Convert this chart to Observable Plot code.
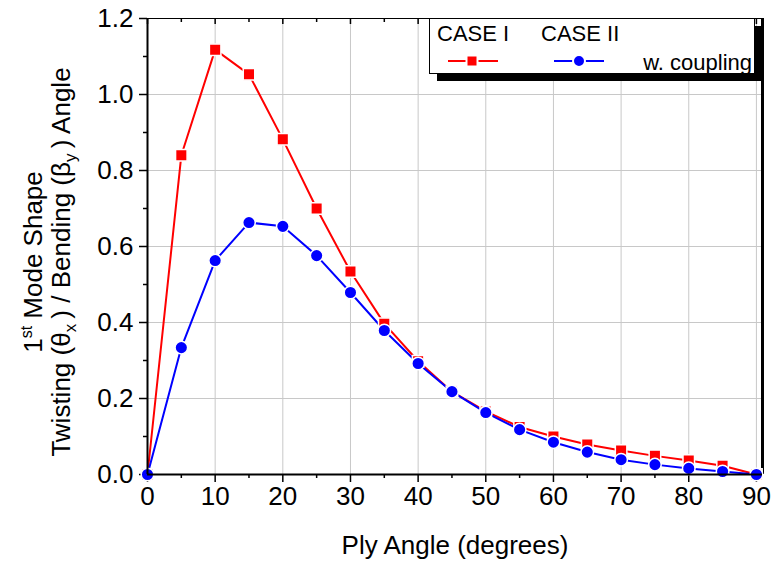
<!DOCTYPE html>
<html><head><meta charset="utf-8">
<script src="https://cdn.jsdelivr.net/npm/d3@7"></script>
<script src="https://cdn.jsdelivr.net/npm/@observablehq/plot@0.6"></script>
<style>
body{margin:0;background:#fff}
svg{font-family:Arial,"Liberation Sans",sans-serif}
</style>
</head><body><div id="chart"></div>
<script>
const plyAngle = [0,5,10,15,20,25,30,35,40,45,50,55,60,65,70,75,80,85,90];
const caseI  = [0,0.840,1.118,1.053,0.882,0.700,0.534,0.397,0.298,0.218,0.166,0.125,0.100,0.079,0.063,0.049,0.037,0.023,0.0];
const caseII = [0,0.334,0.563,0.663,0.653,0.576,0.479,0.379,0.292,0.218,0.163,0.118,0.085,0.059,0.039,0.026,0.016,0.008,0.0];
const xTicks = [0,10,20,30,40,50,60,70,80,90];
const xMinor = [5,15,25,35,45,55,65,75,85];
const yTicks = [0,0.2,0.4,0.6,0.8,1.0,1.2];
const yMinor = [0.1,0.3,0.5,0.7,0.9,1.1];
const xDomain = [0, 90.9];
const yDomain = [0, 1.2];
const seriesNames = ["CASE I", "CASE II"];
const legendNote = "w. coupling";
const xTitle = "Ply Angle (degrees)";

const dI = plyAngle.map((x,i)=>({x, y: caseI[i]}));
const dII = plyAngle.map((x,i)=>({x, y: caseII[i]}));

const W = 772, H = 563, mL = 147, mR = 10, mT = 18, mB = 89;
const plotH = H - mT - mB;

const chart = Plot.plot({
  width: W, height: H,
  marginLeft: mL, marginRight: mR, marginTop: mT, marginBottom: mB,
  style: {background: "#fff", color: "#000", fontFamily: "Arial, 'Liberation Sans', sans-serif"},
  x: {domain: xDomain, axis: null},
  y: {domain: yDomain, axis: null},
  marks: [
    Plot.gridX(xTicks, {stroke: "#c8c8c8", strokeOpacity: 1, strokeWidth: 1}),
    Plot.gridY(yTicks, {stroke: "#c8c8c8", strokeOpacity: 1, strokeWidth: 1}),
    Plot.ruleY([yDomain[1]], {stroke: "#000", strokeWidth: 1}),
    Plot.ruleX(xTicks, {stroke: "#000", strokeWidth: 1.5, insetBottom: plotH - 6}),
    Plot.ruleX(xMinor, {stroke: "#000", strokeWidth: 1.5, insetBottom: plotH - 4}),
    Plot.axisX(xTicks, {tickSize: 8, tickPadding: 4, fontSize: 26, strokeWidth: 1.5, label: null}),
    Plot.axisX(xMinor, {tickSize: 4, strokeWidth: 1.5, tickFormat: () => "", label: null}),
    Plot.axisY(yTicks, {tickSize: 8, tickPadding: 6, fontSize: 26, strokeWidth: 1.5, tickFormat: d3.format(".1f"), label: null}),
    Plot.axisY(yMinor, {tickSize: 4, strokeWidth: 1.5, tickFormat: () => "", label: null}),
    Plot.ruleX([xDomain[1]], {stroke: "#000", strokeWidth: 3}),
    Plot.line(dI, {x: "x", y: "y", stroke: "#ff0000", strokeWidth: 2}),
    Plot.line(dII, {x: "x", y: "y", stroke: "#0000ff", strokeWidth: 2}),
    Plot.dot(dI, {x: "x", y: "y", symbol: "square", r: 6.5, fill: "#ff0000", stroke: "#fff", strokeWidth: 1.5}),
    Plot.dot(dII, {x: "x", y: "y", symbol: "circle", r: 6.3, fill: "#0000ff", stroke: "#fff", strokeWidth: 1.5}),
    Plot.ruleX([0], {stroke: "#000", strokeWidth: 2}),
    Plot.ruleY([0], {stroke: "#000", strokeWidth: 2})
  ]
});
document.getElementById("chart").appendChild(chart);

const svg = d3.select(chart);
// X title
svg.append("text").attr("x", 455).attr("y", 554).attr("text-anchor", "middle")
  .attr("font-size", 26).attr("fill", "#000").text(xTitle);

// Y title (two lines, rotated)
const yl = svg.append("g").attr("transform", "translate(0,262) rotate(-90)");
const t1 = yl.append("text").attr("x", 0).attr("y", 42).attr("text-anchor", "middle").attr("font-size", 26).attr("fill", "#000");
t1.append("tspan").text("1");
t1.append("tspan").attr("font-size", 16).attr("dy", -10).text("st");
t1.append("tspan").attr("dy", 10).text(" Mode Shape");
const t2 = yl.append("text").attr("x", 0).attr("y", 70).attr("text-anchor", "middle").attr("font-size", 26).attr("fill", "#000");
t2.append("tspan").text("Twisting (\u03B8");
t2.append("tspan").attr("font-size", 17).attr("dy", 6).text("x");
t2.append("tspan").attr("dy", -6).text("\u2009) / Bending (\u03B2");
t2.append("tspan").attr("font-size", 17).attr("dy", 6).text("y");
t2.append("tspan").attr("dy", -6).text("\u2009) Angle");

// Legend
const lg = svg.append("g").attr("text-anchor", "start");
lg.append("rect").attr("x", 437).attr("y", 26).attr("width", 325).attr("height", 55).attr("fill", "#000");
lg.append("rect").attr("x", 429.5).attr("y", 18.5).attr("width", 325).attr("height", 55).attr("fill", "#fff").attr("stroke", "#000").attr("stroke-width", 1);
lg.append("text").attr("x", 437).attr("y", 41).attr("text-anchor", "start").attr("font-size", 22).attr("fill", "#000").text(seriesNames[0]);
lg.append("text").attr("x", 541).attr("y", 41).attr("text-anchor", "start").attr("font-size", 22).attr("fill", "#000").text(seriesNames[1]);
lg.append("line").attr("x1", 448).attr("x2", 498).attr("y1", 61).attr("y2", 61).attr("stroke", "#ff0000").attr("stroke-width", 2);
lg.append("rect").attr("x", 466.5).attr("y", 55.5).attr("width", 11).attr("height", 11).attr("fill", "#ff0000").attr("stroke", "#fff").attr("stroke-width", 2);
lg.append("line").attr("x1", 554).attr("x2", 604).attr("y1", 61).attr("y2", 61).attr("stroke", "#0000ff").attr("stroke-width", 2);
lg.append("circle").attr("cx", 579).attr("cy", 61).attr("r", 6).attr("fill", "#0000ff").attr("stroke", "#fff").attr("stroke-width", 2);
lg.append("text").attr("x", 752).attr("y", 70).attr("text-anchor", "end").attr("font-size", 22).attr("fill", "#000").text(legendNote);
</script>
</body></html>
